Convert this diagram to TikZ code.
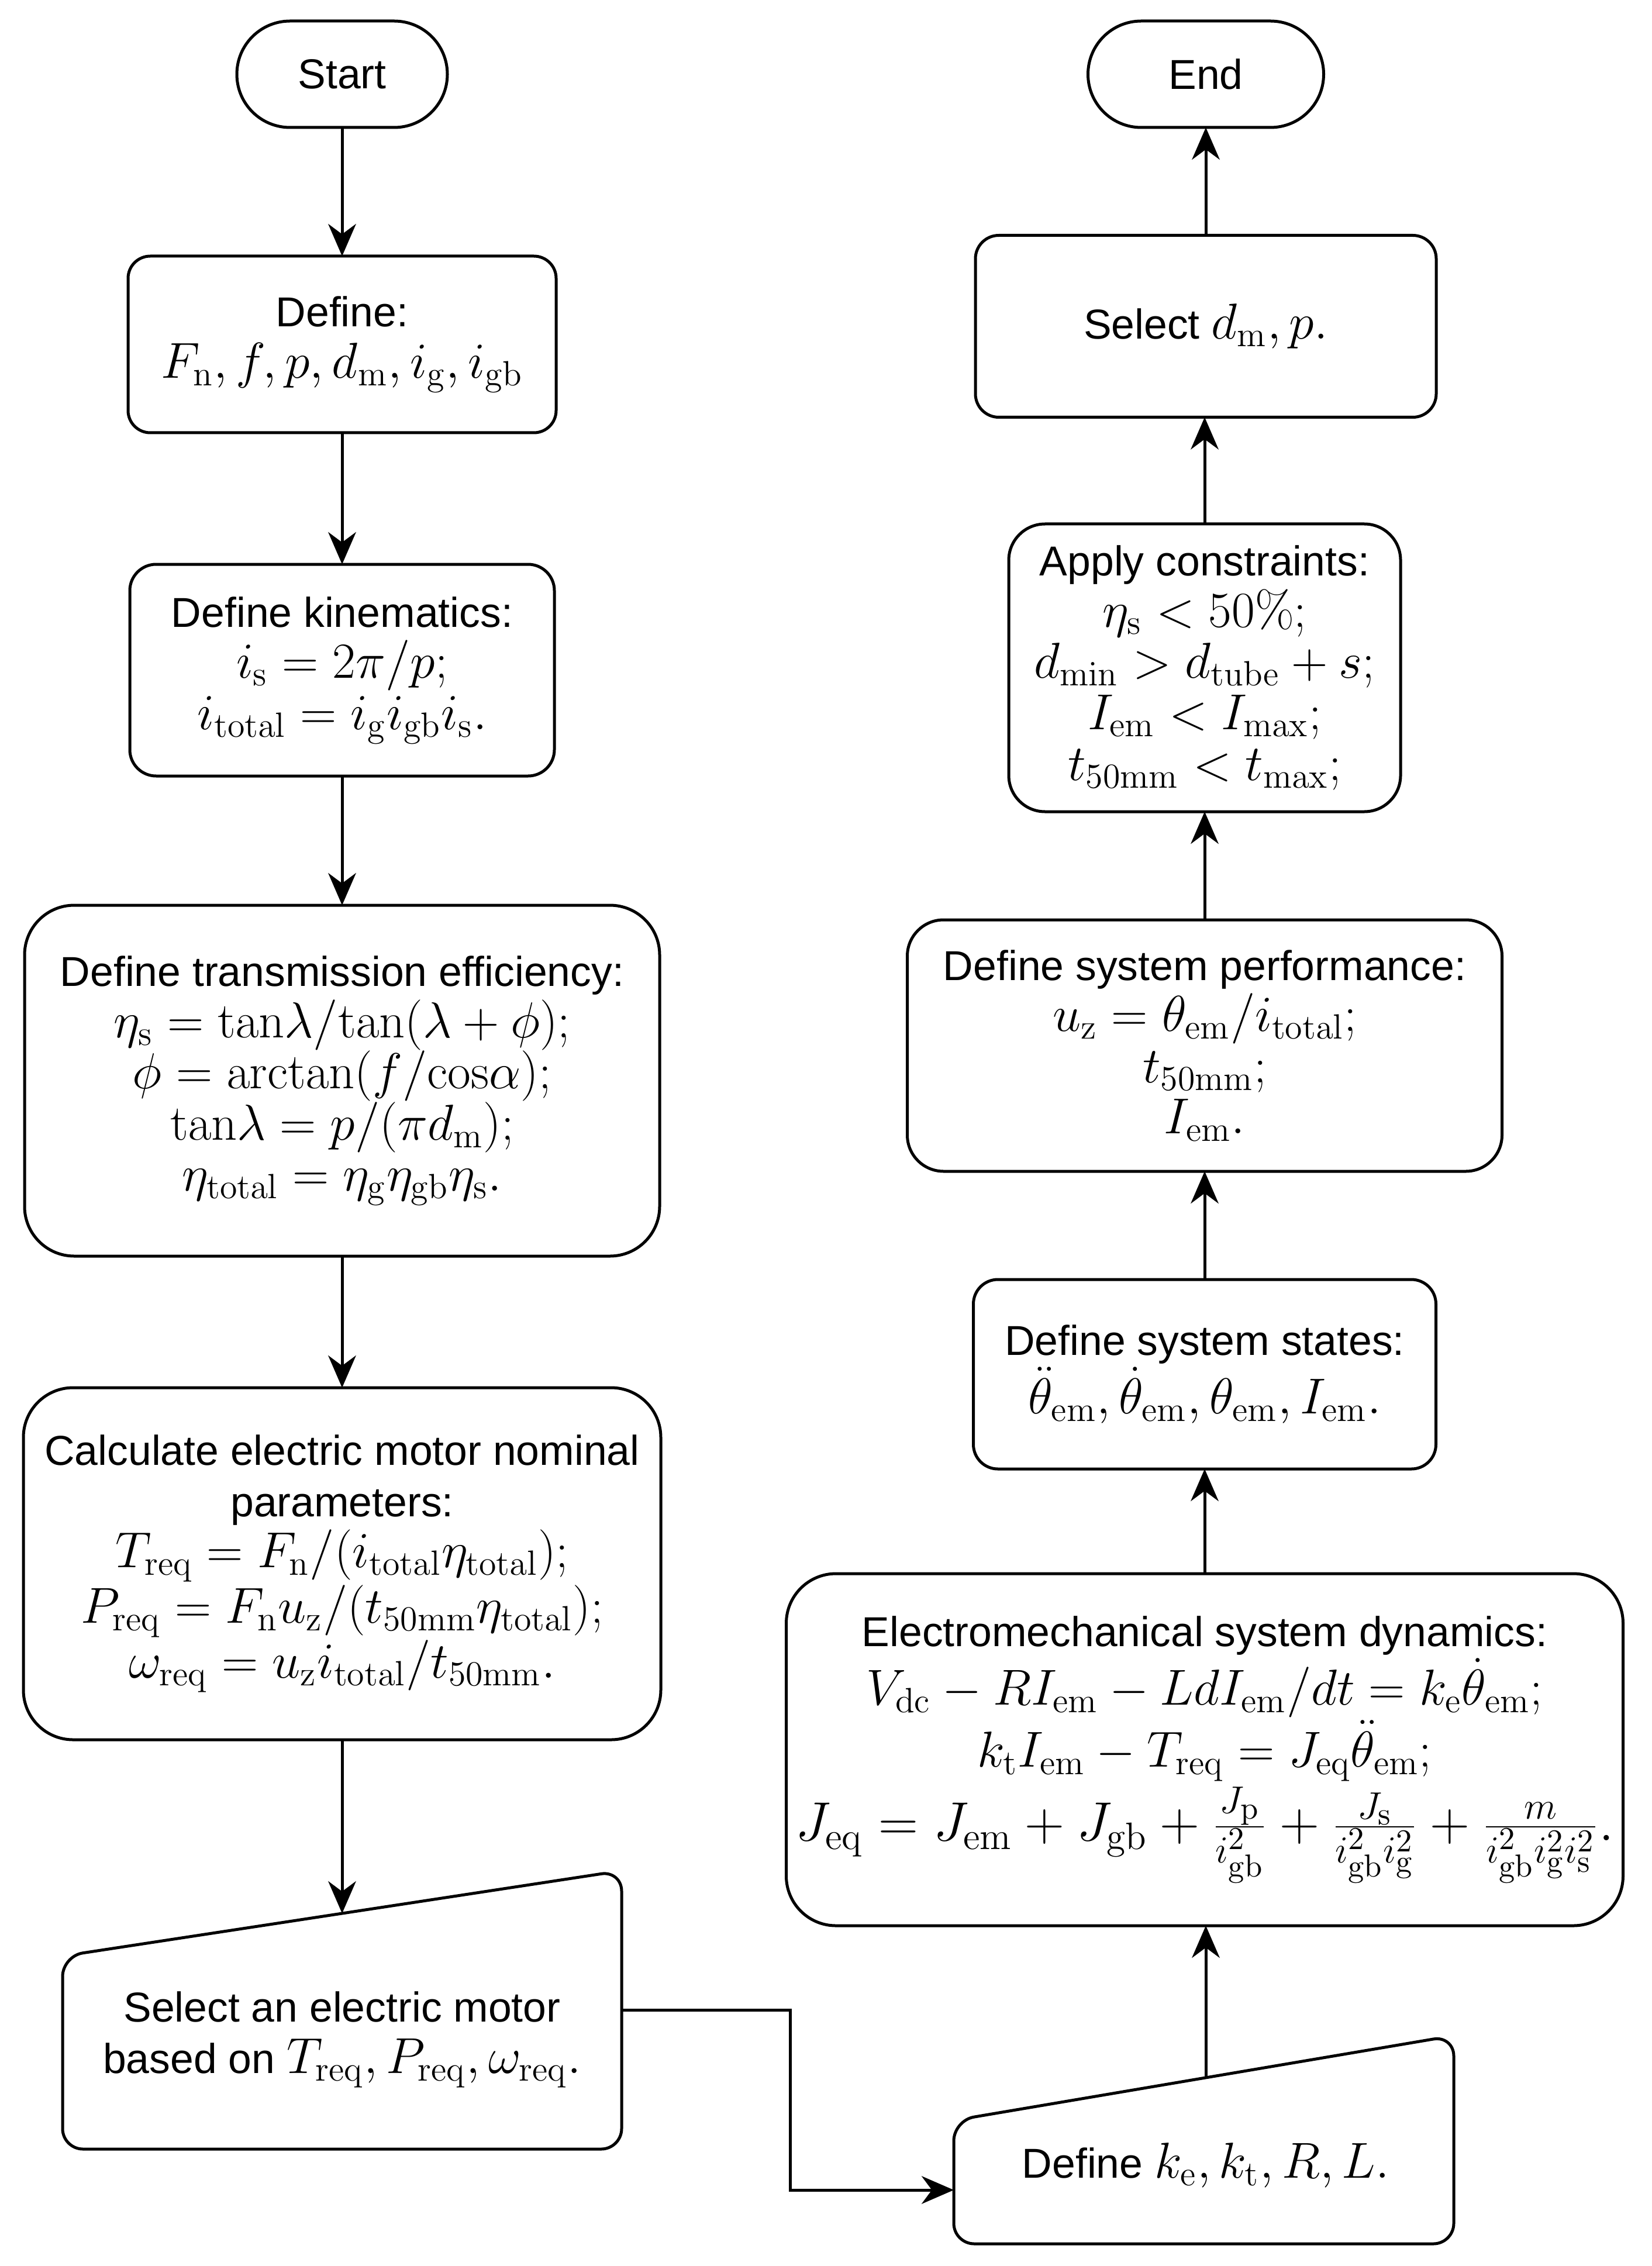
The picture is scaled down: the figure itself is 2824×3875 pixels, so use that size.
\documentclass[tikz,border=0pt]{standalone}
\usepackage[no-math]{fontspec}
\usepackage{graphicx}
\setmainfont{Liberation Sans}
\usetikzlibrary{arrows.meta}
\newcommand\mth[1]{{\fontsize{17.28pt}{17.5pt}\selectfont$#1$}}
\newcommand\rmx[1]{\mathrm{#1}}
\begin{document}
\begin{tikzpicture}[x=0.2pt,y=-0.2pt,
  every node/.style={font=\fontsize{14.3pt}{17.5pt}\selectfont, align=center, inner sep=0pt, outer sep=0pt},
  bx/.style n args={3}{draw, line width=1pt, fill=white, minimum width=#1*0.2pt, minimum height=#2*0.2pt, rounded corners=#3*0.2pt},
  shp/.style={draw, line width=1pt, fill=white},
  arr/.style={line width=1pt, -{Stealth[length=11pt,width=9.5pt,inset=3.5pt]}}]
\fill[white] (0,0) rectangle (2824,3875);
\useasboundingbox (0,0) rectangle (2824,3875);

% ---------- left column ----------
\node[bx={360}{182}{91}] (start) at (585,127) {Start};
\node[bx={732}{302}{38}] (def) at (585,589) {Define:\\ \mth{F_\rmx{n}, f, p, d_\rmx{m}, i_\rmx{g}, i_\rmx{gb}}};
\node[bx={726}{362}{45}] (kin) at (585,1146) {Define kinematics:\\ \mth{i_\rmx{s}=2\pi/p;}\\ \mth{i_\rmx{total}=i_\rmx{g}i_\rmx{gb}i_\rmx{s}.}};
\node[bx={1086}{600}{85}] (trans) at (585,1848) {Define transmission efficiency:\\
  \mth{\eta_\rmx{s}=\rmx{tan}\lambda/\rmx{tan}(\lambda+\phi);}\\
  \mth{\phi=\rmx{arctan}(f/\rmx{cos}\alpha);}\\
  \mth{\rmx{tan}\lambda=p/(\pi d_\rmx{m});}\\
  \mth{\eta_\rmx{total}=\eta_\rmx{g}\eta_\rmx{gb}\eta_\rmx{s}.}};
\node[bx={1090}{602}{85}] (calc) at (585,2674) {Calculate electric motor nominal\\ parameters:\\
  \mth{T_\rmx{req}=F_\rmx{n}/(i_\rmx{total}\eta_\rmx{total});}\\
  \mth{P_\rmx{req}=F_\rmx{n}u_\rmx{z}/(t_\rmx{50mm}\eta_\rmx{total});}\\
  \mth{\omega_\rmx{req}=u_\rmx{z}i_\rmx{total}/t_\rmx{50mm}.}};
% manual input: select motor
\draw[shp, rounded corners=7pt] (107,3345) -- (1063,3199) -- (1063,3675) -- (107,3675) -- cycle;
\node (sel) at (585,3488) {Select an electric motor\\ based on \mth{T_\rmx{req}, P_\rmx{req}, \omega_\rmx{req}.}};
\coordinate (selTop) at (585,3272);
\coordinate (selR) at (1063,3437);

% ---------- right column ----------
\node[bx={403}{182}{91}] (end) at (2062,127) {End};
\node[bx={788}{311}{40}] (seldm) at (2062,558) {Select \mth{d_\rmx{m}, p.}};
\node[bx={670}{492}{62}] (app) at (2060,1142) {Apply constraints:\\
  \mth{\eta_\rmx{s}<50\%;}\\
  \mth{d_\rmx{min}>d_\rmx{tube}+s;}\\
  \mth{I_\rmx{em}<I_\rmx{max};}\\
  \mth{t_\rmx{50mm}<t_\rmx{max};}};
\node[bx={1017}{430}{62}] (perf) at (2060,1788) {Define system performance:\\
  \mth{u_\rmx{z}=\theta_\rmx{em}/i_\rmx{total};}\\
  \mth{t_\rmx{50mm};}\\
  \mth{I_\rmx{em}.}};
\node[bx={791}{324}{42}] (states) at (2060,2350) {Define system states:\\
  \mth{\ddot\theta_\rmx{em},\dot\theta_\rmx{em},\theta_\rmx{em},I_\rmx{em}.}};
\node[bx={1431}{602}{85}] (em) at (2060,2992) {Electromechanical system dynamics:\\
  \mth{V_\rmx{dc}-RI_\rmx{em}-LdI_\rmx{em}/dt=k_\rmx{e}\dot\theta_\rmx{em};}\\
  \mth{k_\rmx{t}I_\rmx{em}-T_\rmx{req}=J_\rmx{eq}\ddot\theta_\rmx{em};}\\[1pt]
  \scalebox{1.09}{\mth{J_\rmx{eq}=J_\rmx{em}+J_\rmx{gb}+\frac{J_\rmx{p}}{i_\rmx{gb}^2}+\frac{J_\rmx{s}}{i_\rmx{gb}^2i_\rmx{g}^2}+\frac{m}{i_\rmx{gb}^2i_\rmx{g}^2i_\rmx{s}^2}.}}};
% manual input: define k
\draw[shp, rounded corners=7pt] (1631,3626) -- (2486,3481) -- (2486,3837) -- (1631,3837) -- cycle;
\node (dk) at (2062,3703) {Define \mth{k_\rmx{e}, k_\rmx{t}, R, L.}};
\coordinate (dkTop) at (2062,3553);
\coordinate (dkL) at (1631,3745);

% ---------- connectors ----------
\draw[arr] (start.south) -- (def.north);
\draw[arr] (def.south) -- (kin.north);
\draw[arr] (kin.south) -- (trans.north);
\draw[arr] (trans.south) -- (calc.north);
\draw[arr] (calc.south) -- (selTop);
\draw[arr] (selR) -- ++(288,0) |- (dkL);
\draw[arr] (dkTop) -- (dkTop |- em.south);
\draw[arr] (em.north -| states.south) -- (states.south);
\draw[arr] (states.north) -- (perf.south);
\draw[arr] (perf.north) -- (app.south);
\draw[arr] (app.north) -- (app.north |- seldm.south);
\draw[arr] (seldm.north -| end.south) -- (end.south);
\end{tikzpicture}
\end{document}
